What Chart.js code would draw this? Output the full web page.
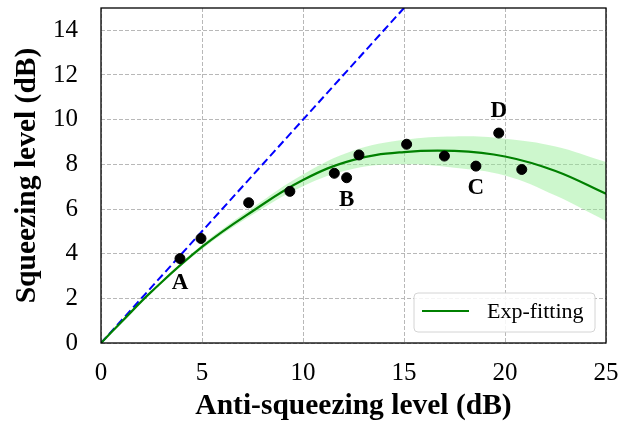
<!DOCTYPE html>
<html>
<head>
<meta charset="utf-8">
<title>Squeezing vs anti-squeezing</title>
<script src="https://cdn.jsdelivr.net/npm/chart.js@4.4.1/dist/chart.umd.min.js"></script>
<style>
    html, body { margin: 0; padding: 0; background: #fff; }
    #chart { display: block; }
</style>
</head>
<body>
<canvas id="chart" width="621" height="424"></canvas>
<script>
// measured points (dB)
const antiSqueezing = [3.91, 4.95, 7.31, 9.35, 11.55, 12.16, 12.77, 15.13, 17.0, 18.56, 19.69, 20.83];
const squeezing = [3.78, 4.68, 6.28, 6.79, 7.60, 7.40, 8.42, 8.90, 8.37, 7.92, 9.40, 7.77];

// exp fit and its confidence band
const fitX = [0, 1, 2.5, 5, 7.5, 10, 12.5, 15, 17.5, 20, 22.5, 25];
const fitY = [0, 0.93, 2.3, 4.3, 5.9, 7.3, 8.2, 8.55, 8.6, 8.35, 7.7, 6.68];
const bandHigh = [0, 0.94, 2.34, 4.4, 6.06, 7.55, 8.62, 9.1, 9.25, 9.15, 8.8, 8.1];
const bandLow = [0, 0.92, 2.26, 4.2, 5.74, 7.02, 7.8, 8.0, 7.85, 7.5, 6.6, 5.46];

// ideal line (no loss)
const idealX = [0, 15];
const idealY = [0, 15];

// point labels
const pointLabels = ['A', 'B', 'C', 'D'];
const pointLabelIndex = [0, 5, 9, 10];

const xTicks = [0, 5, 10, 15, 20, 25];
const yTicks = [0, 2, 4, 6, 8, 10, 12, 14];

document.addEventListener('DOMContentLoaded', () => {
    const ctx = document.getElementById('chart').getContext('2d');

    const toXY = (xs, ys) => xs.map((x, i) => ({ x: x, y: ys[i] }));
    const serif = '"Liberation Serif", "Times New Roman", serif';

    // frame, letters and legend box
    const extras = {
        id: 'extras',
        afterDatasetsDraw(chart) {
            const c = chart.ctx;
            const area = chart.chartArea;

            // letters next to points
            const meta = chart.getDatasetMeta(0);
            const offsets = [24, 22, 22, -22];
            c.save();
            c.font = 'bold 23px ' + serif;
            c.fillStyle = '#000';
            c.textAlign = 'center';
            c.textBaseline = 'middle';
            pointLabels.forEach((txt, i) => {
                const pt = meta.data[pointLabelIndex[i]];
                c.fillText(txt, pt.x, pt.y + offsets[i]);
            });
            c.restore();

            // black box round the plot
            c.save();
            c.strokeStyle = '#000';
            c.lineWidth = 1.3;
            c.strokeRect(area.left, area.top, area.right - area.left, area.bottom - area.top);
            c.restore();

            // legend, bottom right
            const lx = 414, ly = 293, lw = 181, lh = 39;
            c.save();
            c.beginPath();
            c.roundRect(lx, ly, lw, lh, 4);
            c.fillStyle = 'rgba(255,255,255,0.85)';
            c.fill();
            c.strokeStyle = '#d4d4d4';
            c.lineWidth = 1;
            c.stroke();
            c.beginPath();
            c.moveTo(422, 311);
            c.lineTo(469, 311);
            c.strokeStyle = '#008000';
            c.lineWidth = 2.2;
            c.stroke();
            c.font = '22px ' + serif;
            c.fillStyle = '#000';
            c.textAlign = 'left';
            c.textBaseline = 'middle';
            c.fillText('Exp-fitting', 487, 312);
            c.restore();
        }
    };

    new Chart(ctx, {
        type: 'line',
        data: {
            datasets: [
                {
                    type: 'scatter',
                    label: 'data',
                    data: toXY(antiSqueezing, squeezing),
                    backgroundColor: '#000',
                    borderColor: '#000',
                    pointRadius: 5,
                    order: 0
                },
                {
                    label: 'Exp-fitting',
                    data: toXY(fitX, fitY),
                    borderColor: '#008000',
                    borderWidth: 2.2,
                    pointRadius: 0,
                    tension: 0.4,
                    fill: false,
                    order: 1
                },
                {
                    label: 'ideal',
                    data: toXY(idealX, idealY),
                    borderColor: '#0000ff',
                    borderWidth: 2,
                    borderDash: [8, 4],
                    pointRadius: 0,
                    fill: false,
                    order: 2
                },
                {
                    label: 'band high',
                    data: toXY(fitX, bandHigh),
                    borderWidth: 0,
                    borderColor: 'rgba(0,0,0,0)',
                    backgroundColor: 'rgba(144,238,144,0.45)',
                    pointRadius: 0,
                    tension: 0.4,
                    fill: '+1',
                    order: 3
                },
                {
                    label: 'band low',
                    data: toXY(fitX, bandLow),
                    borderWidth: 0,
                    borderColor: 'rgba(0,0,0,0)',
                    pointRadius: 0,
                    tension: 0.4,
                    fill: false,
                    order: 4
                }
            ]
        },
        options: {
            responsive: false,
            animation: false,
            events: [],
            layout: { padding: { left: 0, top: 8, right: 15, bottom: 0 } },
            plugins: {
                legend: { display: false },
                tooltip: { enabled: false }
            },
            scales: {
                x: {
                    type: 'linear',
                    min: 0,
                    max: 25,
                    afterBuildTicks: (scale) => { scale.ticks = xTicks.map(v => ({ value: v })); },
                    afterFit: (scale) => {
                        scale.height = 81;
                        scale.paddingLeft = 0;
                        scale.paddingRight = 0;
                    },
                    grid: { color: '#b8b8b8', lineWidth: 1, drawTicks: false },
                    border: { display: false, dash: [4, 2] },
                    ticks: {
                        color: '#000',
                        padding: 15,
                        maxRotation: 0,
                        font: { family: serif, size: 25 }
                    },
                    title: {
                        display: true,
                        text: 'Anti-squeezing level (dB)',
                        color: '#000',
                        padding: { top: 0, bottom: 0 },
                        font: { family: serif, size: 29.5, weight: 'bold' }
                    }
                },
                y: {
                    type: 'linear',
                    min: 0,
                    max: 15,
                    afterBuildTicks: (scale) => { scale.ticks = yTicks.map(v => ({ value: v })); },
                    afterFit: (scale) => {
                        scale.width = 101;
                        scale.paddingTop = 0;
                        scale.paddingBottom = 0;
                    },
                    grid: { color: '#b8b8b8', lineWidth: 1, drawTicks: false },
                    border: { display: false, dash: [4, 2] },
                    ticks: {
                        color: '#000',
                        padding: 23,
                        font: { family: serif, size: 25 }
                    },
                    title: {
                        display: true,
                        text: 'Squeezing level (dB)',
                        color: '#000',
                        padding: { top: 10, bottom: 0 },
                        font: { family: serif, size: 29.5, weight: 'bold' }
                    }
                }
            }
        },
        plugins: [extras]
    });
});
</script>
</body>
</html>
